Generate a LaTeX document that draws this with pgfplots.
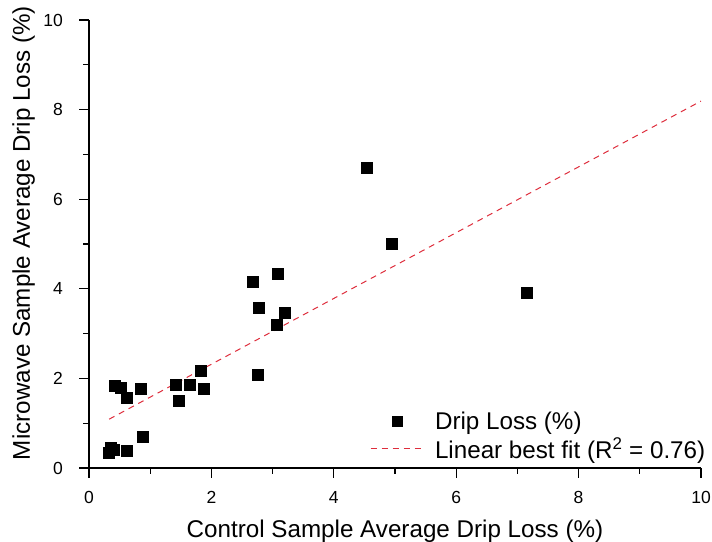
\documentclass[border=0pt]{standalone}
\usepackage{fontspec}
\setmainfont{Liberation Sans}
\usepackage{pgfplots}
\pgfplotsset{compat=1.18}
\definecolor{fitred}{RGB}{222,45,60}
% wider legend samples: a centred square and a long dashed stroke
\pgfplotsset{
  markleg/.style={legend image code/.code={%
    \draw[mark repeat=2, mark phase=2, mark size=5pt, ##1]
      plot coordinates {(0pt,0pt) (27pt,0pt) (54pt,0pt)};}},
  lineleg/.style={legend image code/.code={%
    \draw[##1] (0pt,0pt) -- (54pt,0pt);}},
}
\begin{document}
\begin{tikzpicture}
\begin{axis}[
  name=main,
  scale only axis,
  width=612pt, height=448pt,
  xmin=0, xmax=10, ymin=0, ymax=10,
  axis lines*=left,
  axis line style={line width=1.2pt},
  tick align=outside,
  major tick length=10pt,
  minor tick length=6pt,
  every tick/.style={line width=1.2pt, black},
  xtick={0,2,...,10}, ytick={0,2,...,10},
  minor tick num=1,
  /pgf/number format/assume math mode=true,
  tick label style={font=\fontsize{17.5}{20}\selectfont, inner sep=0pt},
  xticklabel style={anchor=base, yshift=-26pt},
  yticklabel style={anchor=east, xshift=-16pt},
  xlabel={Control Sample Average Drip Loss (\%)},
  ylabel={Microwave Sample Average Drip Loss (\%)},
  label style={font=\fontsize{24.2}{28}\selectfont, inner sep=0pt},
  xlabel style={at={(axis description cs:0.5,0)}, anchor=base, yshift=-70pt},
  ylabel style={at={(axis description cs:0,0.5)}, anchor=base, yshift=59pt, xshift=11pt},
  legend style={draw=none, fill=none, inner sep=0pt, outer sep=0pt,
    at={(axis description cs:0.4592,0.0)}, anchor=south west, yshift=8pt,
    font=\fontsize{24.2}{28}\selectfont, row sep=7pt,
    nodes={inner sep=0pt},
    /tikz/every odd column/.append style={column sep=10pt}},
  legend cell align=left,
  clip=false,
]
\addplot[only marks, mark=square*, mark size=5.5pt, black, markleg] coordinates {
  (4.53,6.71) (4.95,5.00) (7.16,3.91) (2.67,4.15) (3.08,4.34)
  (2.77,3.57) (3.20,3.47) (3.06,3.19) (2.76,2.08) (1.83,2.17)
  (1.64,1.87) (1.88,1.78) (1.41,1.86) (1.46,1.51) (0.85,1.77)
  (0.42,1.83) (0.51,1.80) (0.62,1.56) (0.87,0.70) (0.62,0.38)
  (0.33,0.35) (0.35,0.45) (0.41,0.41)
};
\addlegendentry{Drip Loss (\%)}
\addplot[fitred, line width=1pt, dash pattern=on 6pt off 5pt, lineleg] coordinates {
  (0.33,1.09) (10,8.19)
};
\addlegendentry{Linear best fit (R\textsuperscript{2} = 0.76)}
\end{axis}
\pgfresetboundingbox
\useasboundingbox ([xshift=-89pt,yshift=-74pt]main.south west)
  rectangle ([xshift=11pt,yshift=20pt]main.north east);
\end{tikzpicture}
\end{document}
